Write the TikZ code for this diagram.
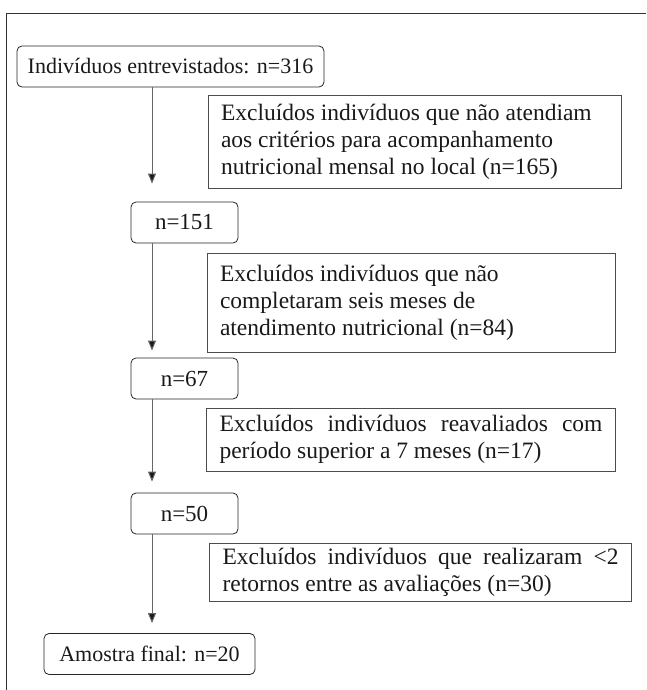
\documentclass[tikz,border=0pt]{standalone}
\usepackage{fontspec}
\setmainfont{Liberation Serif}
\usetikzlibrary{arrows.meta}

\tikzset{
  roundbox/.style={draw=black!85, line width=0.8pt, rounded corners=5pt,
    minimum height=41pt, inner sep=0pt, text=black!90},
  exclbox/.style={draw=black!70, line width=0.9pt, inner ysep=4pt,
    inner xsep=13pt, align=justify, text width=#1, text=black!90,
    font=\fontsize{23.5}{27}\selectfont},
  flow/.style={draw=black!60, line width=1pt,
    -{Triangle[length=10pt,width=8pt,fill=black!90]}}
}

\begin{document}
\begin{tikzpicture}[x=1pt,y=-1pt,font=\fontsize{23}{27}\selectfont]
      \useasboundingbox (0,0) rectangle (646,690);
      % Drawing frame
      \draw[black!80, line width=1pt] (6,690) -- (6,14) -- (646,14);
      % Drawing the main steps
      \node[roundbox, minimum width=307pt, font=\fontsize{22}{26}\selectfont] (b316) at (170.5,66.5) {Indivíduos entrevistados: n=316};
      \node[roundbox, minimum width=107pt] (b151) at (184.5,222.5) {n=151};
      \node[roundbox, minimum width=107pt] (b67) at (184.5,378.5) {n=67};
      \node[roundbox, minimum width=107pt] (b50) at (184.5,513.5) {n=50};
      \node[roundbox, minimum width=211pt, font=\fontsize{22}{26}\selectfont] (b20) at (149.5,654) {Amostra final: n=20};
      % Drawing the exclusion boxes
      \node[exclbox=387pt, minimum height=93pt] (e165) at (414.5,141.5)
        {Excluídos indivíduos que não atendiam\\ aos critérios para acompanhamento\\ nutricional mensal no local (n=165)};
      \node[exclbox=382pt, minimum height=99pt] (e84) at (411,302.5)
        {Excluídos indivíduos que não\\ completaram seis meses de\\ atendimento nutricional (n=84)};
      \node[exclbox=383pt, minimum height=63pt] (e17) at (411,439.5)
        {Excluídos indivíduos reavaliados com\linebreak período superior a 7 meses (n=17)};
      \node[exclbox=396pt, minimum height=58pt] (e30) at (420.5,572)
        {Excluídos indivíduos que realizaram <2\linebreak retornos entre as avaliações (n=30)};
      % Drawing arrows
      \coordinate (spine) at (152,0);
      \draw[flow, shorten >=18pt] (b316.south -| spine) -- (b151.north -| spine);
      \draw[flow, shorten >=7pt] (b151.south -| spine) -- (b67.north -| spine);
      \draw[flow, shorten >=11pt] (b67.south -| spine) -- (b50.north -| spine);
      \draw[flow, shorten >=10pt] (b50.south -| spine) -- (b20.north -| spine);
    \end{tikzpicture}
\end{document}
